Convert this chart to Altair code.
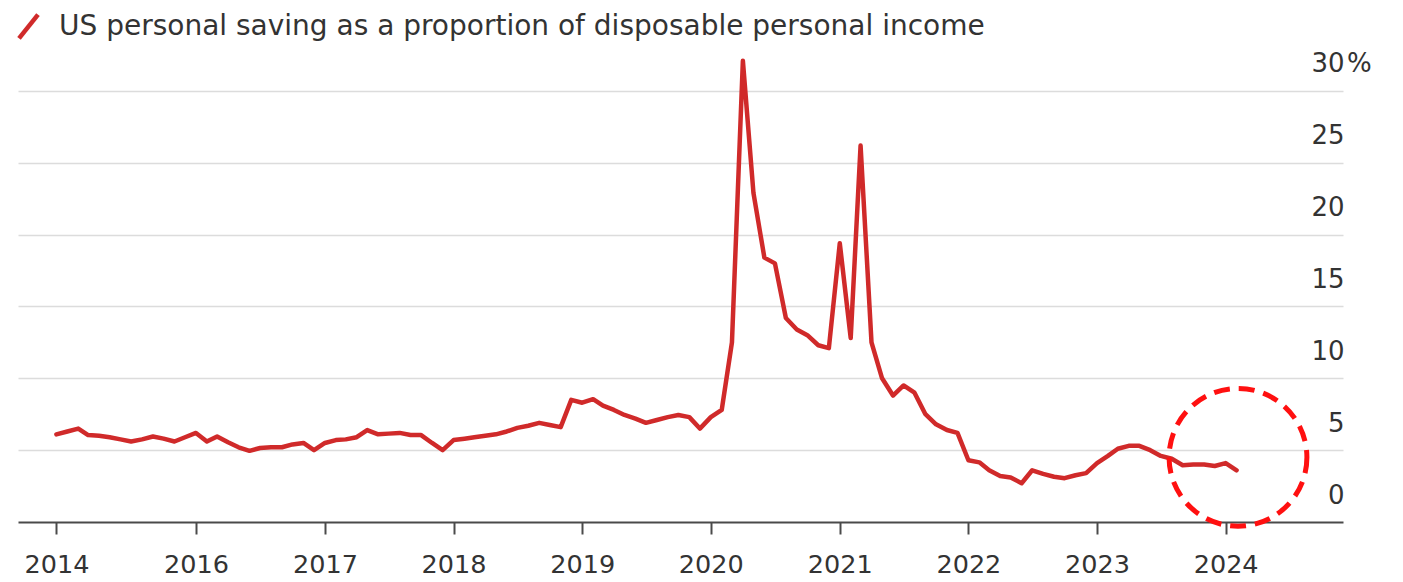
import altair as alt
import pandas as pd

# US personal saving rate, % of disposable personal income (monthly, Dec 2014 – Feb 2024)
start_month = "2014-12-01"
saving_rate = [
    6.1, 6.3, 6.5, 6.05, 6.0, 5.9, 5.75, 5.6, 5.75, 5.95, 5.8, 5.6, 5.9,   # Dec14 - Dec15
    6.2, 5.6, 5.95, 5.55, 5.2, 4.95, 5.15, 5.2, 5.2, 5.4, 5.5, 5.0,        # 2016
    5.5, 5.7, 5.75, 5.9, 6.4, 6.1, 6.15, 6.2, 6.05, 6.05, 5.5, 5.0,        # 2017
    5.7, 5.8, 5.9, 6.0, 6.1, 6.3, 6.55, 6.7, 6.9, 6.75, 6.6, 8.5,          # 2018
    8.3, 8.55, 8.1, 7.8, 7.45, 7.2, 6.9, 7.1, 7.3, 7.45, 7.3, 6.5,         # 2019
    7.3, 7.8, 12.5, 32.1, 22.9, 18.4, 18.0, 14.2, 13.4, 13.0, 12.3, 12.1,  # 2020
    19.4, 12.8, 26.2, 12.5, 10.0, 8.8, 9.5, 9.0, 7.5, 6.8, 6.4, 6.2,       # 2021
    4.3, 4.15, 3.6, 3.2, 3.1, 2.7, 3.6, 3.35, 3.15, 3.05, 3.25, 3.4,       # 2022
    4.1, 4.6, 5.1, 5.3, 5.3, 5.0, 4.6, 4.4, 3.95, 4.0, 4.0, 3.9,           # 2023
    4.1, 3.6,                                                               # 2024
]
series_name = "US personal saving as a proportion of disposable personal income"
tick_dates = ["2014-12-01", "2016-01-01", "2017-01-01", "2018-01-01", "2019-01-01",
              "2020-01-01", "2021-01-01", "2022-01-01", "2023-01-01", "2024-01-01"]
y_ticks = [0, 5, 10, 15, 20, 25, 30]

# highlight circle around the latest readings
highlight_date = ["2024-02-05"]
highlight_rate = [4.5]

df = pd.DataFrame({
    "date": pd.date_range(start_month, periods=len(saving_rate), freq="MS"),
    "rate": saving_rate,
    "series": series_name,
})
hl = pd.DataFrame({"date": pd.to_datetime(highlight_date), "rate": highlight_rate})

FONT = "DejaVu Sans"
RED = "#d02a2a"
TXT = "#333333"

def dt(s):
    y, m, d = (int(p) for p in s.split("-"))
    return alt.DateTime(year=y, month=m, date=d)

x_scale = alt.Scale(domain=[dt("2014-08-14"), dt("2024-11-29")])
y_scale = alt.Scale(domain=[0, 32.5], nice=False)

x_enc = alt.X(
    "date:T",
    scale=x_scale,
    axis=alt.Axis(
        values=[dt(s) for s in tick_dates],
        format="%Y",
        title=None,
        grid=False,
        domainColor="#4a4a4a",
        domainWidth=2,
        tickColor="#4a4a4a",
        tickWidth=2,
        tickSize=12,
        labelFontSize=25.5,
        labelFont=FONT,
        labelColor=TXT,
        labelPadding=18,
        labelFlush=False,
        zindex=0,
    ),
)
y_enc = alt.Y(
    "rate:Q",
    scale=y_scale,
    axis=alt.Axis(
        orient="right",
        values=y_ticks,
        title=None,
        grid=True,
        gridColor={"condition": {"test": "datum.value === 0", "value": "transparent"},
                   "value": "#dcdcdc"},
        gridWidth=1.5,
        domain=False,
        ticks=False,
        labelAlign="right",
        labelBaseline="alphabetic",
        labelOffset=-19,
        labelPadding=1,
        labelFontSize=26,
        labelFont=FONT,
        labelColor=TXT,
        zindex=0,
    ),
)

line = alt.Chart(df).mark_line(strokeWidth=4.5, strokeJoin="round", strokeCap="round").encode(
    x=x_enc,
    y=y_enc,
    color=alt.Color(
        "series:N",
        scale=alt.Scale(range=[RED]),
        legend=alt.Legend(
            title=None,
            orient="none",
            legendX=-8,
            legendY=-47,
            symbolType="M-0.6,0.75L0.6,-0.75",
            symbolSize=1000,
            symbolStrokeWidth=4.5,
            symbolStrokeColor=RED,
            labelFontSize=28,
            labelFont=FONT,
            labelColor=TXT,
            labelLimit=0,
            labelOffset=12,
        ),
    ),
)

circle = alt.Chart(hl).mark_point(
    shape="circle", size=19000, filled=False, stroke="#ff1010",
    strokeWidth=5, strokeDash=[16, 9], opacity=1
).encode(
    x=alt.X("date:T", scale=x_scale),
    y=alt.Y("rate:Q", scale=y_scale),
)

pct = alt.Chart(pd.DataFrame({"v": [30]})).mark_text(
    text="%", align="left", baseline="alphabetic", dy=-19, fontSize=26, font=FONT, color=TXT
).encode(y=alt.Y("v:Q", scale=y_scale), x=alt.value(1329))

chart = alt.layer(line, circle, pct).properties(
    width=1325,
    height=467,
    autosize=alt.AutoSizeParams(type="none"),
    padding={"left": 18, "top": 55, "right": 60, "bottom": 60},
    background="white",
).configure_view(stroke=None)

chart.save("out.html", embed_options={"renderer": "svg", "actions": False})
